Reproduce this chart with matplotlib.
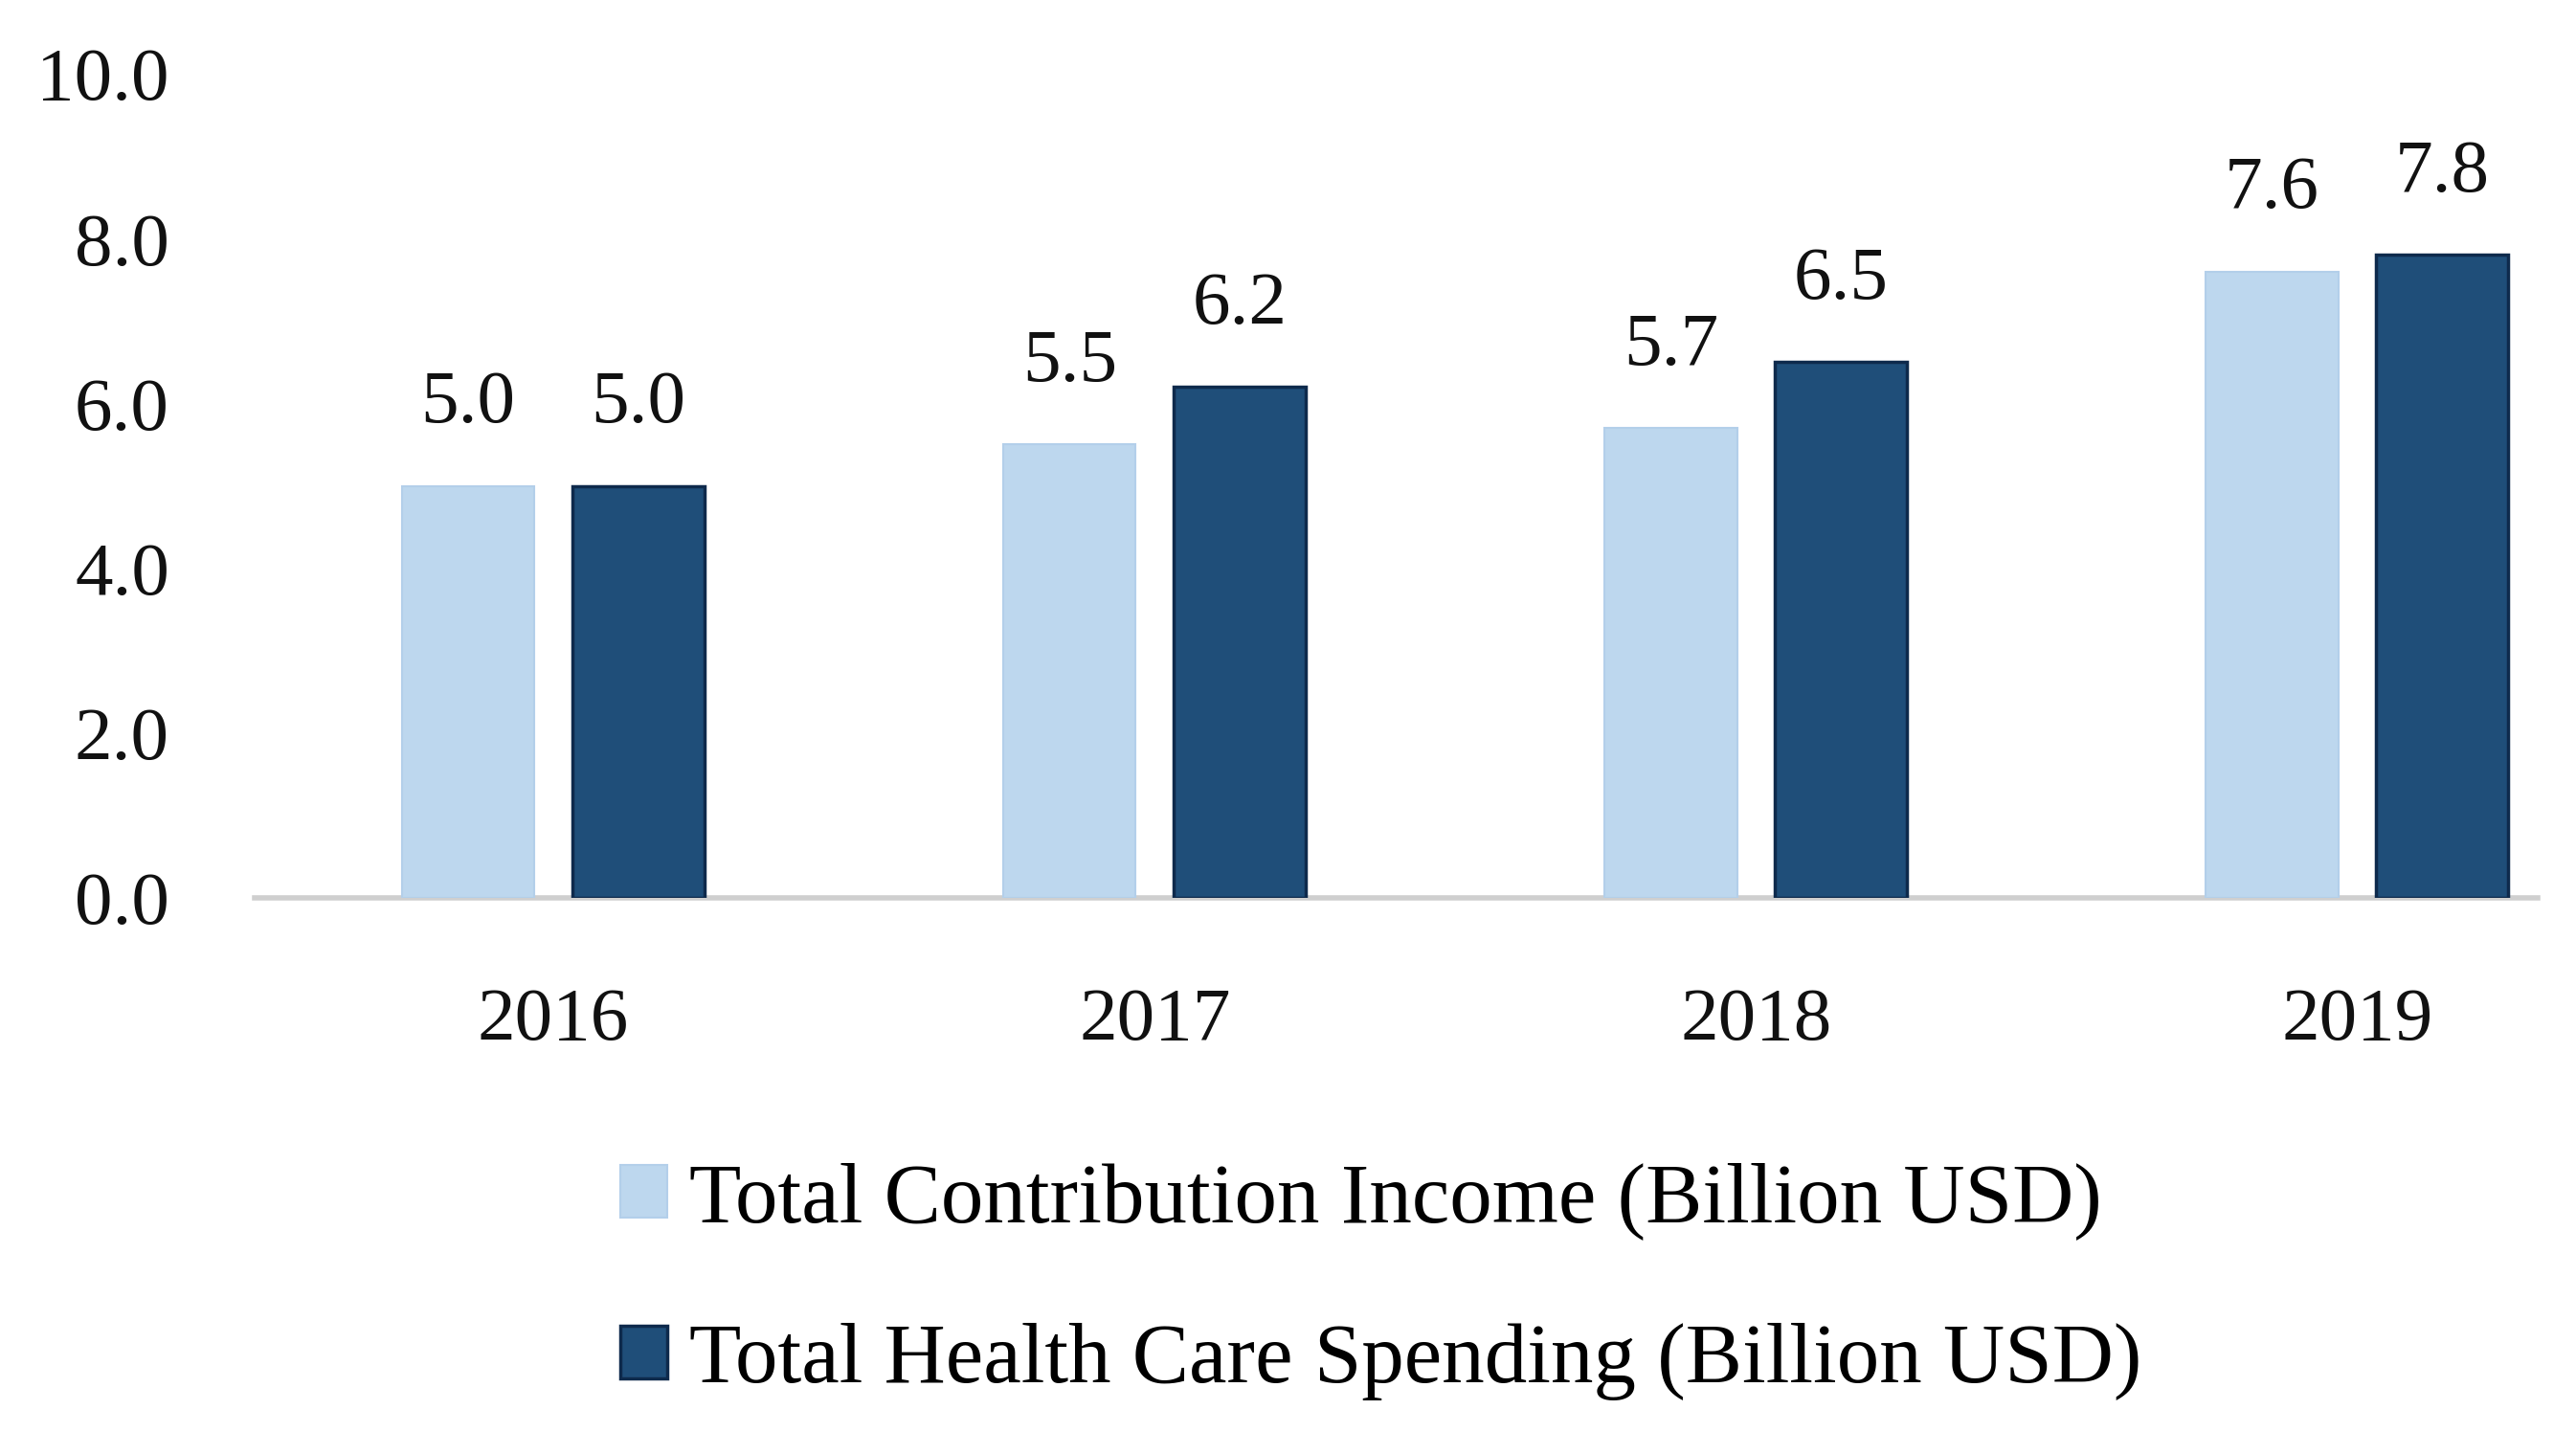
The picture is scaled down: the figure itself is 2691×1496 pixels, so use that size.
import matplotlib.pyplot as plt
from matplotlib.patches import Patch
import numpy as np

years = ['2016', '2017', '2018', '2019']
income = [5.0, 5.5, 5.7, 7.6]
spending = [5.0, 6.2, 6.5, 7.8]
labels = ['Total Contribution Income (Billion USD)', 'Total Health Care Spending (Billion USD)']
yticks = [0, 2, 4, 6, 8, 10]

light = '#BDD7EE'
dark = '#1F4E79'
dark_edge = '#0E2A4C'

plt.rcParams['font.family'] = ['Liberation Serif', 'DejaVu Serif']

fig = plt.figure(figsize=(26.91, 14.96), dpi=100)
ax = fig.add_axes([0.0988, 0.3730, 0.8863, 0.5755])

x = np.arange(len(years))
w = 0.22
off = 0.1415
b1 = ax.bar(x - off, income, w, color=light, edgecolor='#B3CFEA', linewidth=1.5, zorder=2)
b2 = ax.bar(x + off, spending, w, color=dark, edgecolor=dark_edge, linewidth=2.5, zorder=2)

for bars, vals in ((b1, income), (b2, spending)):
    for r, v in zip(bars, vals):
        ax.annotate('{:.1f}'.format(v), (r.get_x() + r.get_width() / 2, v),
                    xytext=(0, 48), textcoords='offset points',
                    ha='center', va='baseline', fontsize=57, color='#111111')

ax.set_xlim(-0.497, 3.30)
ax.set_ylim(0, 10)
ax.set_yticks(yticks)
ax.set_yticklabels(['{:.1f}'.format(t) for t in yticks])
ax.set_xticks(x)
ax.set_xticklabels(years)
ax.tick_params(axis='y', length=0, pad=64, labelsize=57, colors='#111111')
ax.tick_params(axis='x', length=0, pad=67, labelsize=57, colors='#111111')

for s in ('top', 'right', 'left'):
    ax.spines[s].set_visible(False)
ax.spines['bottom'].set_color('#CFCFCF')
ax.spines['bottom'].set_linewidth(4)
ax.spines['bottom'].set_zorder(1)

handles = [Patch(facecolor=light, edgecolor='#B3CFEA', linewidth=1.5),
           Patch(facecolor=dark, edgecolor=dark_edge, linewidth=2.5)]
fig.legend(handles, labels, loc='upper left', bbox_to_anchor=(0.2408, 0.1886),
           frameon=False, fontsize=64, borderpad=0, borderaxespad=0,
           handlelength=0.55, handleheight=0.58, handletextpad=0.26,
           labelspacing=0.98)

fig.savefig('out.png', dpi=100, facecolor='white')
